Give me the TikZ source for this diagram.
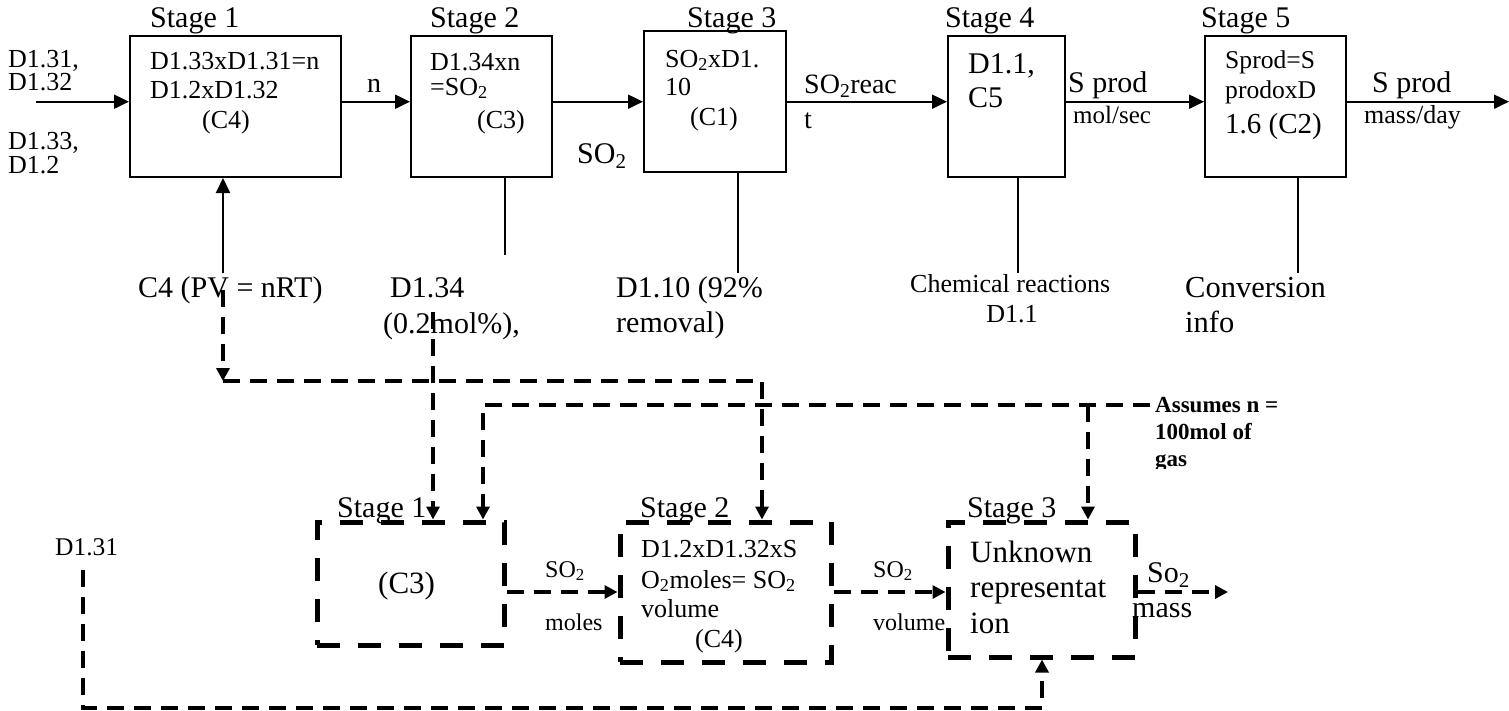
\documentclass[tikz,border=0pt]{standalone}
\usepackage{fontspec}
\setmainfont{Liberation Serif}
\usetikzlibrary{arrows.meta}
\tikzset{
  sbox/.style={draw, line width=2pt, inner sep=0pt},
  dbox/.style={draw, line width=5pt, dash pattern=on 23pt off 18pt, inner sep=0pt},
  conn/.style={line width=2pt},
  arr/.style={conn, -{Triangle[length=15pt,width=14pt]}},
  dconn/.style={line width=3.5pt, dash pattern=on 17pt off 10pt},
  darr/.style={dconn, -{Triangle[length=13pt,width=13pt]}},
  txt/.style={inner sep=0pt, anchor=base west},
  fA/.style={txt, font=\fontsize{30}{32}\selectfont},
  fB/.style={txt, font=\fontsize{26}{28}\selectfont},
  fC/.style={txt, font=\fontsize{24}{26}\selectfont},
  fD/.style={txt, font=\fontsize{23}{25}\selectfont\bfseries},
}
\begin{document}
\begin{tikzpicture}[x=1pt,y=-1pt]
\useasboundingbox (0,0) rectangle (1509,710);
% ---------- top row boxes ----------
\node[sbox, minimum width=210.7pt, minimum height=141pt] (b1) at (235.35,106.5) {};
\node[sbox, minimum width=141pt, minimum height=141pt] (b2) at (481.5,106.5) {};
\node[sbox, minimum width=142pt, minimum height=141pt] (b3) at (715,101.5) {};
\node[sbox, minimum width=117pt, minimum height=141pt] (b4) at (1006.5,106.5) {};
\node[sbox, minimum width=141pt, minimum height=141pt] (b5) at (1275.5,106.5) {};
% stage labels
\node[fA] (s1) at (150,27) {Stage 1};
\node[fA] (s2) at (430,27) {Stage 2};
\node[fA] (s3) at (687,27) {Stage 3};
\node[fA] (s4) at (945,27) {Stage 4};
\node[fA] (s5) at (1201,27) {Stage 5};
% left inputs
\node[fB] (i1) at (8,67) {D1.31,};
\node[fB] (i2) at (8,90) {D1.32};
\node[fB] (i3) at (8,149) {D1.33,};
\node[fB] (i4) at (8,173) {D1.2};
% box texts
\node[fB] (t1a) at (150,69) {D1.33xD1.31=n};
\node[fB] (t1b) at (150,98) {D1.2xD1.32};
\node[fB] (t1c) at (202,128) {(C4)};
\node[fB] (t2a) at (430,70) {D1.34xn};
\node[fB] (t2b) at (430,95) {=SO\textsubscript{2}};
\node[fB] (t2c) at (477,128) {(C3)};
\node[fB] (t3a) at (665,67) {SO\textsubscript{2}xD1.};
\node[fB] (t3b) at (665,95) {10};
\node[fB] (t3c) at (690,125) {(C1)};
\node[fA] (t4a) at (968,73) {D1.1,};
\node[fA] (t4b) at (968,107) {C5};
\node[txt, font=\fontsize{25.6}{27}\selectfont] (t5a) at (1225,68) {Sprod=S};
\node[txt, font=\fontsize{25.6}{27}\selectfont] (t5b) at (1225,98) {prodoxD};
\node[txt, font=\fontsize{29}{31}\selectfont] (t5c) at (1225,133) {1.6 (C2)};
% arrow labels
\node[txt, font=\fontsize{28}{30}\selectfont] (ln) at (367,92) {n};
\node[fA] (lso2) at (577,163) {SO\textsubscript{2}};
\node[txt, font=\fontsize{28}{30}\selectfont] (lr1) at (804,93) {SO\textsubscript{2}reac};
\node[txt, font=\fontsize{28}{30}\selectfont] (lr2) at (804,128) {t};
\node[fA] (lsp1) at (1068,92) {S prod};
\node[txt, font=\fontsize{25}{27}\selectfont] (lms) at (1073,123) {mol/sec};
\node[fA] (lsp2) at (1372,92) {S prod};
\node[fB] (lmd) at (1364,123) {mass/day};
% top connectors
\coordinate (row) at (0,101.7);
\coordinate (inL) at (36,101.7);
\coordinate (outR) at (1509,101.7);
\draw[arr] (inL) -- (inL -| b1.west);
\draw[arr] (b1.east |- row) -- (b2.west |- row);
\draw[arr] (b2.east |- row) -- (b3.west |- row);
\draw[arr] (b3.east |- row) -- (b4.west |- row);
\draw[arr] (b4.east |- row) -- (b5.west |- row);
\draw[arr] (b5.east |- row) -- (outR);
% middle labels
\node[fA] (m1) at (138,297) {C4 (PV = nRT)};
\node[fA] (m2a) at (390,297) {D1.34};
\node[fA] (m2b) at (383,333) {(0.2mol\%),};
\node[fA] (m3a) at (616,297) {D1.10 (92\%};
\node[fA] (m3b) at (616,332) {removal)};
\node[fB] (m4a) at (910,292) {Chemical reactions};
\node[txt, anchor=base, font=\fontsize{26}{28}\selectfont] (m4b) at (1012,322) {D1.1};
\node[txt, font=\fontsize{30.5}{32}\selectfont] (m5a) at (1185,297) {Conversion};
\node[txt, font=\fontsize{30.5}{32}\selectfont] (m5b) at (1185,332) {info};
% vertical solid lines
\coordinate (v1) at (223,273);
\coordinate (v2) at (505,255);
\coordinate (v3) at (738,273);
\coordinate (v4) at (1018,273);
\coordinate (v5) at (1298,273);
\draw[arr] (v1) -- (v1 |- b1.south);
\draw[conn] (v2 |- b2.south) -- (v2);
\draw[conn] (v3 |- b3.south) -- (v3);
\draw[conn] (v4 |- b4.south) -- (v4);
\draw[conn] (v5 |- b5.south) -- (v5);
% ---------- bottom row dashed boxes ----------
\node[dbox, minimum width=187pt, minimum height=123pt] (d1) at (410.5,583.5) {};
\node[dbox, minimum width=211pt, minimum height=140pt] (d2) at (725.5,592) {};
\node[dbox, minimum width=187pt, minimum height=135pt] (d3) at (1041.5,589.5) {};
\node[fA] (u1) at (337,517) {Stage 1};
\node[fA] (u2) at (640,517) {Stage 2};
\node[fA] (u3) at (967,517) {Stage 3};
\node[txt, font=\fontsize{31}{33}\selectfont] (e1) at (378,593) {(C3)};
\node[fB] (e2a) at (641,557) {D1.2xD1.32xS};
\node[fB] (e2b) at (641,588) {O\textsubscript{2}moles= SO\textsubscript{2}};
\node[fB] (e2c) at (641,617) {volume};
\node[fB] (e2d) at (695,647) {(C4)};
\node[txt, font=\fontsize{31}{33}\selectfont] (e3a) at (970,562) {Unknown};
\node[txt, font=\fontsize{31}{33}\selectfont] (e3b) at (970,597) {representat};
\node[txt, font=\fontsize{31}{33}\selectfont] (e3c) at (970,633) {ion};
\node[txt, font=\fontsize{25.5}{27}\selectfont] (dl) at (55,555) {D1.31};
\node[fC] (k1a) at (545,577) {SO\textsubscript{2}};
\node[fC] (k1b) at (545,630) {moles};
\node[fC] (k2a) at (873,577) {SO\textsubscript{2}};
\node[fC] (k2b) at (873,630) {volume};
\node[fA] (k3a) at (1147,582) {So\textsubscript{2}};
\node[fA] (k3b) at (1132,617) {mass};
\begin{scope}
\clip (1140,380) rectangle (1320,468);
\node[fD] (as1) at (1155,412) {Assumes n =};
\node[fD] (as2) at (1155,439) {100mol of};
\node[fD] (as3) at (1155,466) {gas};
\end{scope}
% dashed connectors
\coordinate (c4a) at (223,290);
\coordinate (c4b) at (223,381);
\coordinate (c4c) at (762,381);
\draw[darr] (c4a) -- (c4b);
\draw[darr] (c4b) -- (c4c) -- (c4c |- d2.north);
\coordinate (dd) at (433,312);
\draw[darr] (dd) -- (dd |- d1.north);
\coordinate (h2r) at (1150,405);
\coordinate (h2l) at (483,405);
\coordinate (h2m) at (1088,405);
\draw[darr] (h2r) -- (h2l) -- (h2l |- d1.north);
\draw[darr] (h2m) -- (h2m |- d3.north);
\coordinate (brow) at (0,592);
\draw[darr] (d1.east |- brow) -- (d2.west |- brow);
\draw[darr] (d2.east |- brow) -- (d3.west |- brow);
\coordinate (bout) at (1228,592);
\draw[darr] (d3.east |- brow) -- (bout);
\coordinate (lo1) at (83,570);
\coordinate (lo2) at (83,708);
\coordinate (lo3) at (1042,708);
\draw[darr] (lo1) -- (lo2) -- (lo3) -- (lo3 |- d3.south);
\end{tikzpicture}
\end{document}
